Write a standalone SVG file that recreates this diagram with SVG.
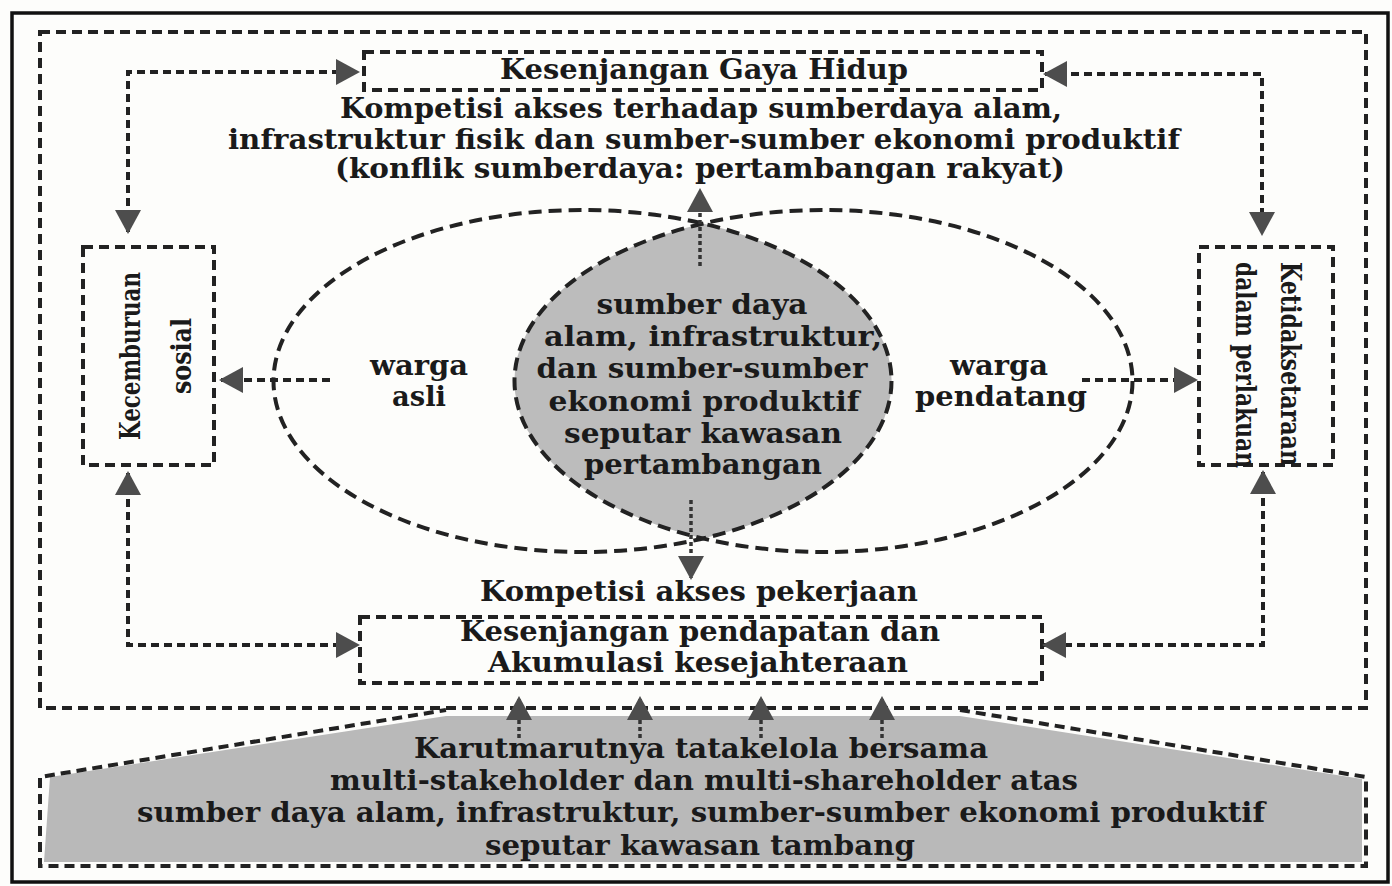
<svg xmlns="http://www.w3.org/2000/svg" width="1392" height="886" viewBox="0 0 1392 886">
<defs>
<marker id="ah" viewBox="0 0 24 26" refX="22" refY="13" markerWidth="24" markerHeight="26" markerUnits="userSpaceOnUse" orient="auto-start-reverse">
<path d="M0,0 L24,13 L0,26 Z" fill="#4d4d4d"/>
</marker>
</defs>
<style>
.t{font-family:"DejaVu Serif","Liberation Serif",serif;font-weight:bold;font-size:27px;fill:#1a1a1a;text-anchor:middle}
.box{fill:none;stroke:#222;stroke-width:4;stroke-dasharray:10 6}
.ell{fill:none;stroke:#222;stroke-width:4;stroke-dasharray:13 7}
.con{fill:none;stroke:#222;stroke-width:4;stroke-dasharray:8 5}
.dot{fill:none;stroke:#333;stroke-width:3.5;stroke-dasharray:4 3}
</style>
<rect x="0" y="0" width="1392" height="886" fill="#fdfdfb"/>
<rect x="12" y="13" width="1376" height="869" fill="none" stroke="#111" stroke-width="3.5"/>

<g id="governance">
<path d="M50,777 L446,716 L960,716 L1362,779 L1362,862 L44,862 Z" fill="#b9b9b9"/>
<path d="M40,868 L40,777 L446,710 M960,710 L1366,777 L1366,866 L40,866" class="box"/>
<text class="t" x="701" y="758" textLength="574" lengthAdjust="spacingAndGlyphs">Karutmarutnya tatakelola bersama</text>
<text class="t" x="704" y="790" textLength="748" lengthAdjust="spacingAndGlyphs">multi-stakeholder dan multi-shareholder atas</text>
<text class="t" x="701" y="822" textLength="1128" lengthAdjust="spacingAndGlyphs">sumber daya alam, infrastruktur, sumber-sumber ekonomi produktif</text>
<text class="t" x="700" y="855" textLength="430" lengthAdjust="spacingAndGlyphs">seputar kawasan tambang</text>
</g>

<g id="frame">
<rect x="40" y="32" width="1326" height="676" class="box"/>
</g>

<g id="venn">
<path d="M703,223.5 A309,171 0 0 1 703,538.5 A309,171 0 0 1 703,223.5 Z" fill="#bcbcbc"/>
<ellipse cx="582.5" cy="381" rx="309" ry="171" class="ell"/>
<ellipse cx="823.5" cy="381" rx="309" ry="171" class="ell"/>
<text class="t" x="702" y="314" textLength="211" lengthAdjust="spacingAndGlyphs">sumber daya</text>
<text class="t" x="713" y="346" textLength="338" lengthAdjust="spacingAndGlyphs">alam, infrastruktur,</text>
<text class="t" x="702" y="378" textLength="331" lengthAdjust="spacingAndGlyphs">dan sumber-sumber</text>
<text class="t" x="704" y="411" textLength="311" lengthAdjust="spacingAndGlyphs">ekonomi produktif</text>
<text class="t" x="703" y="443" textLength="278" lengthAdjust="spacingAndGlyphs">seputar kawasan</text>
<text class="t" x="703" y="474" textLength="238" lengthAdjust="spacingAndGlyphs">pertambangan</text>
</g>

<g id="warga-asli">
<text class="t" x="419" y="375" textLength="98" lengthAdjust="spacingAndGlyphs">warga</text>
<text class="t" x="419" y="406" textLength="54" lengthAdjust="spacingAndGlyphs">asli</text>
</g>
<g id="warga-pendatang">
<text class="t" x="999" y="375" textLength="98" lengthAdjust="spacingAndGlyphs">warga</text>
<text class="t" x="1001" y="406" textLength="172" lengthAdjust="spacingAndGlyphs">pendatang</text>
</g>

<g id="gaya-hidup">
<rect x="364" y="52" width="678" height="38" class="box"/>
<text class="t" x="704" y="79" textLength="408" lengthAdjust="spacingAndGlyphs">Kesenjangan Gaya Hidup</text>
</g>

<g id="kompetisi-sda">
<text class="t" x="701" y="118" textLength="722" lengthAdjust="spacingAndGlyphs">Kompetisi akses terhadap sumberdaya alam,</text>
<text class="t" x="704" y="149" textLength="952" lengthAdjust="spacingAndGlyphs">infrastruktur fisik dan sumber-sumber ekonomi produktif</text>
<text class="t" x="700" y="178" textLength="730" lengthAdjust="spacingAndGlyphs">(konflik sumberdaya: pertambangan rakyat)</text>
</g>

<g id="kecemburuan">
<rect x="83" y="247" width="131" height="218" class="box"/>
<text class="t" transform="translate(140,356) rotate(-90)" x="0" y="0" textLength="168" lengthAdjust="spacingAndGlyphs">Kecemburuan</text>
<text class="t" transform="translate(191,356) rotate(-90)" x="0" y="0" textLength="76" lengthAdjust="spacingAndGlyphs">sosial</text>
</g>

<g id="ketidaksetaraan">
<rect x="1199" y="247" width="134" height="218" class="box"/>
<text class="t" transform="translate(1281,364) rotate(90)" x="0" y="0" textLength="204" lengthAdjust="spacingAndGlyphs">Ketidaksetaraan</text>
<text class="t" transform="translate(1236,365) rotate(90)" x="0" y="0" textLength="206" lengthAdjust="spacingAndGlyphs">dalam perlakuan</text>
</g>

<g id="kompetisi-pekerjaan">
<text class="t" x="699" y="601" textLength="438" lengthAdjust="spacingAndGlyphs">Kompetisi akses pekerjaan</text>
</g>

<g id="pendapatan">
<rect x="360" y="617" width="682" height="66" class="box"/>
<text class="t" x="700" y="641" textLength="480" lengthAdjust="spacingAndGlyphs">Kesenjangan pendapatan dan</text>
<text class="t" x="698" y="672" textLength="420" lengthAdjust="spacingAndGlyphs">Akumulasi kesejahteraan</text>
</g>

<g id="connectors">
<path d="M700,266 L700,190" class="dot" marker-end="url(#ah)"/>
<path d="M691,500 L691,578" class="dot" marker-end="url(#ah)"/>
<path d="M330,380 L221,380" class="con" marker-end="url(#ah)"/>
<path d="M1082,380 L1196,380" class="con" marker-end="url(#ah)"/>
<path d="M128,232 L128,72 L358,72" class="con" marker-start="url(#ah)" marker-end="url(#ah)"/>
<path d="M1045,74 L1262,74 L1262,234" class="con" marker-start="url(#ah)" marker-end="url(#ah)"/>
<path d="M128,473 L128,645 L358,645" class="con" marker-start="url(#ah)" marker-end="url(#ah)"/>
<path d="M1263,472 L1263,645 L1044,645" class="con" marker-start="url(#ah)" marker-end="url(#ah)"/>
<path d="M519,738 L519,698" class="dot" marker-end="url(#ah)"/>
<path d="M640,738 L640,698" class="dot" marker-end="url(#ah)"/>
<path d="M761,738 L761,698" class="dot" marker-end="url(#ah)"/>
<path d="M882,738 L882,698" class="dot" marker-end="url(#ah)"/>
</g>
</svg>
